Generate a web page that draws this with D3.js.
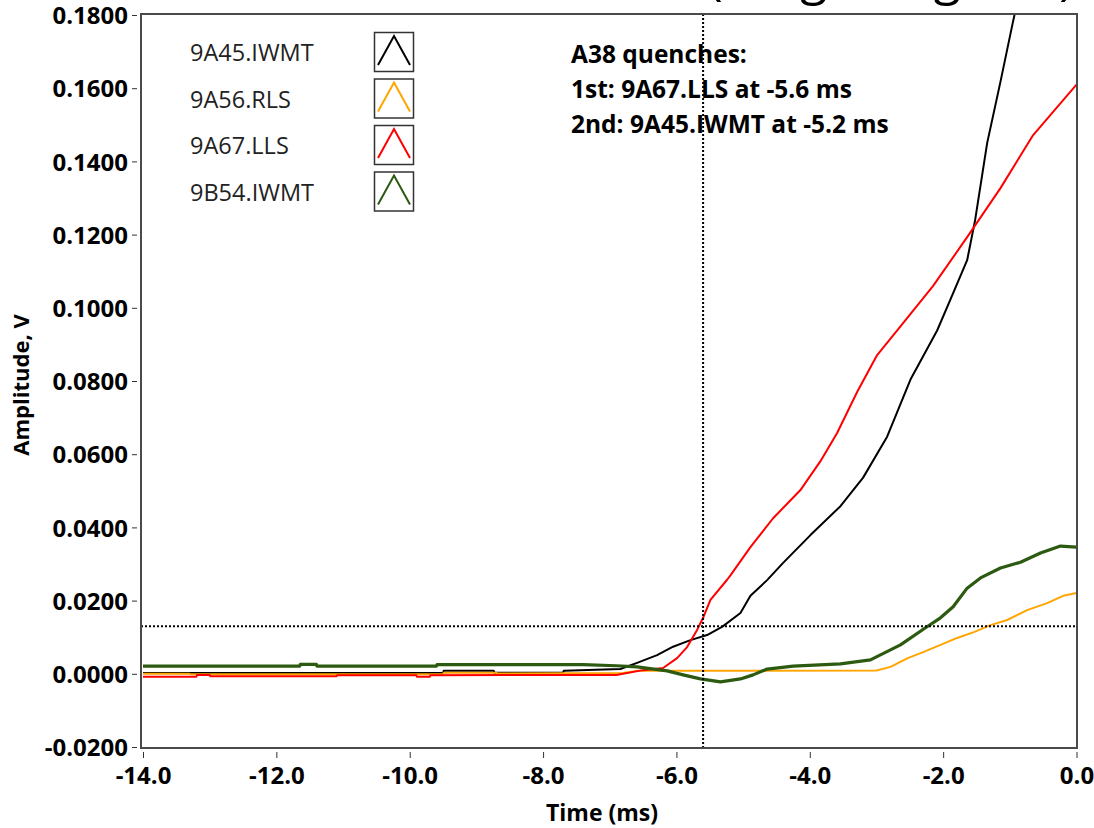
<!DOCTYPE html>
<html>
<head>
<meta charset="utf-8">
<script src="https://cdn.jsdelivr.net/npm/d3@7"></script>
<style>
  html, body { margin: 0; padding: 0; background: #ffffff; }
  svg { display: block; }
  .tick text { font-family: "Open Sans", "Noto Sans", sans-serif; font-weight: 700; fill: #000; }
</style>
</head>
<body>
<svg id="chart" width="1094" height="828"></svg>
<script>
// Trace times (ms) and amplitudes (V) for each channel
const timeIWMT9A45 = [-14, -9.5, -9.49, -8.74, -8.73, -7.7, -7.69, -6.84, -6.59, -6.29, -6.05, -5.79, -5.54, -5.31, -5.04, -4.89, -4.64, -4.4, -3.99, -3.54, -3.2, -2.84, -2.49, -2.09, -1.85, -1.64, -1.52, -1.34, -1.14, -0.96, -0.8];
const ampIWMT9A45  = [0.0002, 0.0002, 0.0008, 0.0008, 0.0003, 0.0003, 0.0008, 0.0013, 0.003, 0.0051, 0.0074, 0.0092, 0.0106, 0.0129, 0.0166, 0.0213, 0.0256, 0.0303, 0.0379, 0.0458, 0.0536, 0.0648, 0.0804, 0.0938, 0.104, 0.113, 0.124, 0.145, 0.1618, 0.1775, 0.191];

const timeRLS9A56 = [-14, -13.3, -13.29, -9.5, -9.49, -8.7, -8.69, -6.8, -6.6, -3.0, -2.79, -2.53, -2.29, -2.04, -1.79, -1.54, -1.29, -1.04, -0.74, -0.44, -0.2, 0];
const ampRLS9A56  = [0.0, 0.0, -0.0001, -0.0001, 0.0003, 0.0003, 0.0001, 0.0002, 0.0008, 0.0009, 0.0019, 0.0043, 0.006, 0.0079, 0.0098, 0.0114, 0.0133, 0.0147, 0.0174, 0.0193, 0.0213, 0.0221];

const timeLLS9A67 = [-14, -13.2, -13.19, -13.0, -12.99, -11.1, -11.09, -9.9, -9.89, -9.7, -9.69, -7.3, -6.9, -6.8, -6.5, -6.2, -5.99, -5.84, -5.69, -5.6, -5.49, -5.24, -5.19, -4.89, -4.55, -4.14, -3.84, -3.59, -3.29, -2.99, -2.64, -2.15, -1.64, -1.14, -0.65, 0];
const ampLLS9A67  = [-0.0008, -0.0008, -0.0003, -0.0003, -0.0007, -0.0007, -0.0004, -0.0004, -0.0008, -0.0008, -0.0004, -0.0003, -0.0003, 0.0, 0.001, 0.0016, 0.0043, 0.0073, 0.012, 0.0153, 0.0202, 0.0257, 0.0269, 0.0346, 0.0425, 0.0502, 0.0581, 0.0658, 0.077, 0.0871, 0.0949, 0.106, 0.1193, 0.1327, 0.1472, 0.161];

const timeIWMT9B54 = [-14, -11.65, -11.64, -11.4, -11.39, -9.6, -9.59, -7.4, -6.9, -6.59, -6.14, -5.9, -5.64, -5.34, -5.04, -4.85, -4.64, -4.25, -3.54, -3.09, -2.64, -2.27, -2.04, -1.85, -1.64, -1.44, -1.14, -0.84, -0.54, -0.24, 0];
const ampIWMT9B54  = [0.0021, 0.0021, 0.0026, 0.0026, 0.0021, 0.0021, 0.0025, 0.0025, 0.0022, 0.0019, 0.0008, -0.0003, -0.0014, -0.0022, -0.0014, -0.0003, 0.0013, 0.0021, 0.0027, 0.0038, 0.0079, 0.0125, 0.0153, 0.0183, 0.0234, 0.0262, 0.0289, 0.0305, 0.033, 0.0349, 0.0346];

const channelNames = ["9A45.IWMT", "9A56.RLS", "9A67.LLS", "9B54.IWMT"];
const channelColors = ["#000000", "#ffa500", "#ff0000", "#2b5a10"];

const xTicks = [-14, -12, -10, -8, -6, -4, -2, 0];
const yTicks = [-0.02, 0, 0.02, 0.04, 0.06, 0.08, 0.10, 0.12, 0.14, 0.16, 0.18];

// Cursor positions: first quench time and threshold level
const cursorTime = -5.6;
const cursorLevel = 0.013;

const noteLines = ["A38 quenches:", "1st: 9A67.LLS at -5.6 ms", "2nd: 9A45.IWMT at -5.2 ms"];
const headerText = "(Larger Signals)";

const traces = [
  { name: channelNames[0], color: channelColors[0], t: timeIWMT9A45, v: ampIWMT9A45, w: 2 },
  { name: channelNames[1], color: channelColors[1], t: timeRLS9A56, v: ampRLS9A56, w: 2 },
  { name: channelNames[2], color: channelColors[2], t: timeLLS9A67, v: ampLLS9A67, w: 2 },
  { name: channelNames[3], color: channelColors[3], t: timeIWMT9B54, v: ampIWMT9B54, w: 3.2 }
];

const svg = d3.select("#chart");
const frame = { left: 141, right: 1077, top: 14, bottom: 748 };

const x = d3.scaleLinear().domain([-14, 0]).range([143, 1076.5]);
const y = d3.scaleLinear().domain([-0.02, 0.18]).range([747, 15]);

// Plain hyphen for negative tick values
const hyphen = f => d => f(d).replace("\u2212", "-");

// Partially visible header above the plot frame
svg.append("text")
  .attr("x", 708).attr("y", -6)
  .attr("textLength", 366).attr("lengthAdjust", "spacing")
  .style("font-family", "'Open Sans', sans-serif")
  .style("font-size", "50px")
  .attr("fill", "#000")
  .text(headerText);

svg.append("defs").append("clipPath").attr("id", "plotClip")
  .append("rect")
  .attr("x", frame.left).attr("y", frame.top)
  .attr("width", frame.right - frame.left).attr("height", frame.bottom - frame.top);

// Axes
const yAxis = d3.axisLeft(y).tickValues(yTicks).tickFormat(hyphen(d3.format(".4f"))).tickSize(5).tickPadding(4);
const gy = svg.append("g").attr("transform", `translate(137,0)`).call(yAxis);
gy.select(".domain").remove();
gy.selectAll(".tick line").attr("stroke", "#333");
gy.selectAll(".tick text").style("font-size", "24px").attr("dy", "0.36em");

const xAxis = d3.axisBottom(x).tickValues(xTicks).tickFormat(hyphen(d3.format(".1f"))).tickSize(6).tickPadding(9);
const gx = svg.append("g").attr("transform", `translate(0,752)`).call(xAxis);
gx.select(".domain").remove();
gx.selectAll(".tick line").attr("stroke", "#333");
gx.selectAll(".tick text").style("font-size", "24px");

// Plot traces
const plot = svg.append("g").attr("clip-path", "url(#plotClip)");
const line = d3.line().x(d => x(d[0])).y(d => y(d[1]));
traces.forEach(tr => {
  plot.append("path")
    .datum(d3.zip(tr.t, tr.v))
    .attr("fill", "none")
    .attr("stroke", tr.color)
    .attr("stroke-width", tr.w)
    .attr("stroke-linejoin", "round")
    .attr("d", line);
});

// Cursors
plot.append("line")
  .attr("x1", x(cursorTime)).attr("x2", x(cursorTime))
  .attr("y1", frame.top).attr("y2", frame.bottom)
  .attr("stroke", "#000").attr("stroke-width", 2).attr("stroke-dasharray", "2,2");
plot.append("line")
  .attr("x1", frame.left).attr("x2", frame.right)
  .attr("y1", y(cursorLevel)).attr("y2", y(cursorLevel))
  .attr("stroke", "#000").attr("stroke-width", 2).attr("stroke-dasharray", "2,2");

// Frame
svg.append("rect")
  .attr("x", frame.left).attr("y", frame.top)
  .attr("width", frame.right - frame.left).attr("height", frame.bottom - frame.top)
  .attr("fill", "none").attr("stroke", "#4a4a4a").attr("stroke-width", 2);

// Legend
const legend = svg.append("g");
traces.forEach((tr, i) => {
  const top = 32 + i * 46.5;
  legend.append("text")
    .attr("x", 190).attr("y", top + 29)
    .style("font-family", "'Open Sans', sans-serif")
    .style("font-size", "23.5px")
    .attr("fill", "#222")
    .text(tr.name);
  legend.append("rect")
    .attr("x", 374.5).attr("y", top + 0.5)
    .attr("width", 39).attr("height", 39)
    .attr("fill", "#fff").attr("stroke", "#333").attr("stroke-width", 1.5);
  legend.append("path")
    .attr("d", `M378,${top + 33} L394,${top + 4} L410,${top + 33}`)
    .attr("fill", "none").attr("stroke", tr.color).attr("stroke-width", 2);
});

// Annotation
svg.append("g").selectAll("text").data(noteLines).join("text")
  .attr("x", 571).attr("y", (d, i) => 62.5 + i * 35)
  .style("font-family", "'Open Sans', sans-serif")
  .style("font-weight", 700)
  .style("font-size", "24.5px")
  .attr("fill", "#000")
  .text(d => d);

// Axis titles
svg.append("text")
  .attr("x", 602).attr("y", 821)
  .attr("text-anchor", "middle")
  .style("font-family", "'Open Sans', sans-serif")
  .style("font-weight", 700)
  .style("font-size", "23px")
  .text("Time (ms)");

svg.append("text")
  .attr("transform", "translate(29,385) rotate(-90)")
  .attr("text-anchor", "middle")
  .style("font-family", "'Open Sans', sans-serif")
  .style("font-weight", 700)
  .style("font-size", "22px")
  .text("Amplitude, V");
</script>
</body>
</html>
